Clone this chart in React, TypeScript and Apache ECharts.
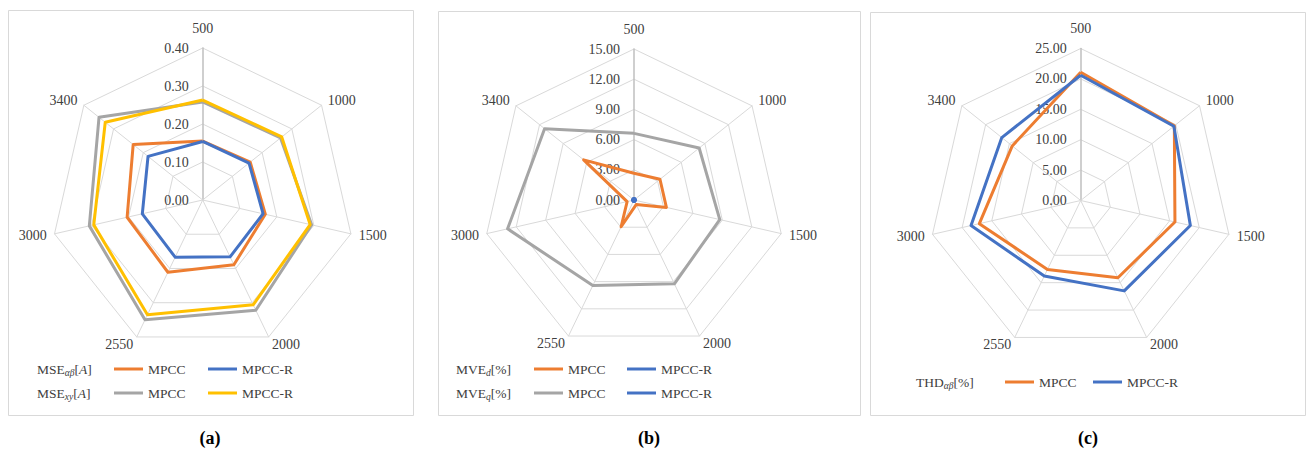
import React, { useEffect, useRef } from 'react';
import * as echarts from 'echarts';

// ---- data ----
const categories = ['500', '1000', '1500', '2000', '2550', '3000', '3400'];

// (a) MSE [A]
const mseAbMpcc = [0.155, 0.160, 0.169, 0.189, 0.211, 0.204, 0.234];
const mseAbMpccR = [0.154, 0.156, 0.163, 0.166, 0.167, 0.163, 0.184];
const mseXyMpcc = [0.258, 0.262, 0.294, 0.322, 0.350, 0.306, 0.349];
const mseXyMpccR = [0.263, 0.266, 0.290, 0.306, 0.335, 0.294, 0.328];

// (b) MVE [%]
const mveDMpcc = [2.65, 3.3, 3.3, 0.5, 2.95, 0.7, 6.4];
const mveDMpccR = [0, 0, 0, 0, 0, 0, 0];
const mveQMpcc = [6.62, 8.28, 8.74, 9.24, 9.43, 12.88, 11.36];
const mveQMpccR = [0, 0, 0, 0, 0, 0, 0];

// (c) THD [%]
const thdMpcc = [21.1, 19.7, 15.9, 14.1, 12.6, 17.1, 14.4];
const thdMpccR = [20.6, 19.6, 18.5, 16.5, 13.8, 18.5, 16.6];

// axis maxima / split counts
const axisMaxA = 0.4;
const axisMaxB = 15;
const axisMaxC = 25;
const splitsA = 4;
const splitsB = 5;
const splitsC = 5;

const ORANGE = '#ED7D31';
const BLUE = '#4472C4';
const GRAY = '#A5A5A5';
const YELLOW = '#FFC000';
const GRID = '#D9D9D9';
const TXT = '#404040';
const FONT = 'Liberation Serif';

// ECharts radar goes counter-clockwise; reorder so categories go clockwise
const cw = (arr: any[]) => [arr[0], ...arr.slice(1).reverse()];

function makeRadar(center: number[], radius: number, max: number, split: number) {
  const cats = cw(categories);
  return {
    center,
    radius,
    startAngle: 90,
    shape: 'polygon',
    splitNumber: split,
    nameGap: 8,
    indicator: cats.map((c: string, i: number) =>
      i === 0
        ? {
            name: c,
            min: 0,
            max,
            nameGap: 13,
            axisLine: { show: true, lineStyle: { color: '#BFBFBF', width: 1.5 } },
            axisLabel: {
              show: true,
              color: TXT,
              fontFamily: FONT,
              fontSize: 14,
              margin: 14,
              padding: [0, 0, 8, 0],
              formatter: (v: any) => Number(v).toFixed(2),
            },
          }
        : { name: c, min: 0, max }
    ),
    axisName: { color: TXT, fontFamily: FONT, fontSize: 14 },
    axisLine: { show: true, lineStyle: { color: GRID, width: 1 } },
    splitLine: { show: true, lineStyle: { color: GRID, width: 1 } },
    splitArea: { show: false },
    axisTick: { show: false },
    axisLabel: { show: false },
  };
}

function makeSeries(radarIndex: number, name: string, values: number[], color: string, extra: any = {}) {
  return {
    type: 'radar',
    radarIndex,
    symbol: 'none',
    silent: true,
    lineStyle: { color, width: 3 },
    itemStyle: { color },
    data: [{ name, value: cw(values) }],
    ...extra,
  };
}

function makeLegend(name: string, left: number, rowY: number) {
  return {
    left,
    top: rowY - 7,
    padding: 0,
    itemWidth: 29,
    itemHeight: 3,
    icon: 'rect',
    selectedMode: false,
    data: [name],
    formatter: (n: string) => n.split(' ')[1],
    itemStyle: { borderWidth: 0 },
    textStyle: { fontFamily: FONT, fontSize: 13.5, color: TXT, lineHeight: 14 },
  };
}

const rich = {
  m: { fontFamily: FONT, fontSize: 13.5, fontWeight: 'normal', color: TXT },
  i: { fontFamily: FONT, fontSize: 13.5, fontWeight: 'normal', fontStyle: 'italic', color: TXT },
  s: { fontFamily: FONT, fontSize: 9.5, fontWeight: 'normal', fontStyle: 'italic', color: TXT, padding: [7, 0, 0, 0] },
};

function rowTitle(text: string, x: number, y: number) {
  return {
    type: 'text',
    x,
    y,
    silent: true,
    style: { text, rich, fontFamily: FONT, fontWeight: 'normal', fill: TXT, verticalAlign: 'middle', align: 'left' },
  };
}

function panelLetter(text: string, x: number, y: number) {
  return {
    type: 'text',
    x,
    y,
    silent: true,
    style: {
      text,
      fontFamily: FONT,
      fontWeight: 'bold',
      fontSize: 18,
      fill: '#000',
      align: 'center',
      verticalAlign: 'middle',
    },
  };
}

function box(x: number, y: number, w: number, h: number) {
  return {
    type: 'rect',
    silent: true,
    z: -1,
    shape: { x, y, width: w, height: h },
    style: { fill: 'none', stroke: GRID, lineWidth: 1 },
  };
}

export default function App() {
  const ref = useRef<HTMLDivElement>(null);

  useEffect(() => {
    if (!ref.current) return;
    const chart = echarts.init(ref.current, null, { renderer: 'svg' });
    const option: any = {
      animation: false,
      backgroundColor: '#fff',
      textStyle: { fontFamily: FONT },
      radar: [
        makeRadar([202.7, 200], 152, axisMaxA, splitsA),
        makeRadar([634, 200], 151, axisMaxB, splitsB),
        makeRadar([1080.7, 200.5], 152, axisMaxC, splitsC),
      ],
      legend: [
        makeLegend('MSEαβ MPCC', 114, 369),
        makeLegend('MSEαβ MPCC-R', 208, 369),
        makeLegend('MSExy MPCC', 114, 393),
        makeLegend('MSExy MPCC-R', 208, 393),
        makeLegend('MVEd MPCC', 534, 369),
        makeLegend('MVEd MPCC-R', 627, 369),
        makeLegend('MVEq MPCC', 534, 393),
        makeLegend('MVEq MPCC-R', 627, 393),
        makeLegend('THDαβ MPCC', 1005, 382),
        makeLegend('THDαβ MPCC-R', 1093, 382),
      ],
      graphic: [
        box(8.5, 10.5, 405, 405),
        box(438.5, 11.5, 422, 404),
        box(870.5, 12.5, 435, 403),
        rowTitle('{m|MSE}{s|αβ}{m|[}{i|A}{m|]}', 37, 369),
        rowTitle('{m|MSE}{s|xy}{m|[}{i|A}{m|]}', 37, 393),
        rowTitle('{m|MVE}{s|d}{m|[%]}', 456, 369),
        rowTitle('{m|MVE}{s|q}{m|[%]}', 456, 393),
        rowTitle('{m|THD}{s|αβ}{m|[%]}', 916, 382),
        panelLetter('(a)', 210, 438),
        panelLetter('(b)', 649, 438),
        panelLetter('(c)', 1088, 438),
      ],
      series: [
        makeSeries(0, 'MSEαβ MPCC', mseAbMpcc, ORANGE),
        makeSeries(0, 'MSEαβ MPCC-R', mseAbMpccR, BLUE),
        makeSeries(0, 'MSExy MPCC', mseXyMpcc, GRAY),
        makeSeries(0, 'MSExy MPCC-R', mseXyMpccR, YELLOW),
        makeSeries(1, 'MVEq MPCC', mveQMpcc, GRAY),
        makeSeries(1, 'MVEd MPCC', mveDMpcc, ORANGE),
        makeSeries(1, 'MVEq MPCC-R', mveQMpccR, BLUE, { symbol: 'circle', symbolSize: 5 }),
        makeSeries(1, 'MVEd MPCC-R', mveDMpccR, BLUE, { symbol: 'circle', symbolSize: 5 }),
        makeSeries(2, 'THDαβ MPCC', thdMpcc, ORANGE),
        makeSeries(2, 'THDαβ MPCC-R', thdMpccR, BLUE),
      ],
    };
    chart.setOption(option);
    return () => chart.dispose();
  }, []);

  return (
    <div
      ref={ref}
      style={{ position: 'fixed', left: 0, top: 0, width: 1307, height: 458, background: '#fff' }}
    />
  );
}
